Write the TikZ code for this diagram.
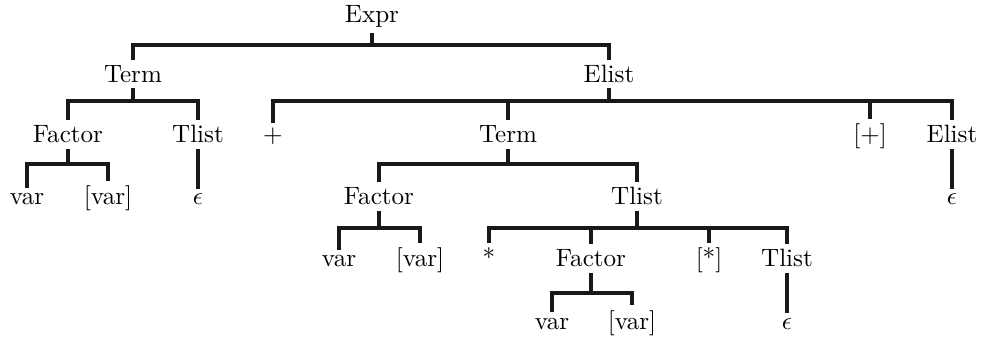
\documentclass[tikz,border=0pt]{standalone}
\usepackage{amsmath}
\usepackage{amssymb}
\usepackage{tikz}
\usetikzlibrary{calc}
\tikzset{
  treeNode/.style={anchor=base, inner sep=2pt},
  treeEdge/.style={line width=1.3pt, draw=black!90}
}
\begin{document}
\begin{tikzpicture}[x=0.014cm,y=-0.014cm]
  \useasboundingbox (0,0) rectangle (984,339);
  % level 0
  \node[treeNode] (expr) at (372,22.5) {Expr};
  % level 1
  \node[treeNode] (term) at (133,82.7) {Term};
  \node[treeNode] (elist) at (609,82.7) {Elist};
  % level 2
  \node[treeNode] (factorA) at (68,143) {Factor};
  \node[treeNode] (tlistA) at (198,143) {Tlist};
  \node[treeNode] (plus) at (273,143) {+};
  \node[treeNode] (termB) at (508,143) {Term};
  \node[treeNode] (plusOpt) at (870,143) {[+]};
  \node[treeNode] (elistB) at (952,143) {Elist};
  % level 3
  \node[treeNode] (varA) at (27,205) {var};
  \node[treeNode] (varOptA) at (108,205) {[var]};
  \node[treeNode] (epsA) at (198,205) {$\epsilon$};
  \node[treeNode] (factorB) at (379,205) {Factor};
  \node[treeNode] (tlistB) at (637,205) {Tlist};
  \node[treeNode] (epsB) at (952,205) {$\epsilon$};
  % level 4
  \node[treeNode] (varB) at (339,267) {var};
  \node[treeNode] (varOptB) at (420,267) {[var]};
  \node[treeNode] (star) at (489,267) {*};
  \node[treeNode] (factorC) at (591,267) {Factor};
  \node[treeNode] (starOpt) at (709,267) {[*]};
  \node[treeNode] (tlistC) at (787,267) {Tlist};
  % level 5
  \node[treeNode] (varC) at (552,329) {var};
  \node[treeNode] (varOptC) at (632,329) {[var]};
  \node[treeNode] (epsC) at (787,329) {$\epsilon$};

  % bar heights
  \coordinate (barA) at (0,45);
  \coordinate (barB) at (0,101);
  \coordinate (barC) at (0,164);
  \coordinate (barD) at (0,228);
  \coordinate (barE) at (0,293);

  % Expr
  \draw[treeEdge] (expr.south) -- (expr.south |- barA);
  \draw[treeEdge] (term.north) |- (elist.north |- barA) -- (elist.north);
  % Term
  \draw[treeEdge] (term.south) -- (term.south |- barB);
  \draw[treeEdge] (factorA.north) |- (tlistA.north |- barB) -- (tlistA.north);
  % Elist
  \draw[treeEdge] (elist.south) -- (elist.south |- barB);
  \draw[treeEdge] (plus.north) |- (elistB.north |- barB) -- (elistB.north);
  \foreach \c in {termB,plusOpt}
    \draw[treeEdge] (\c.north) -- (\c.north |- barB);
  % Factor, Tlist, Elist on level 2
  \draw[treeEdge] (factorA.south) -- (factorA.south |- barC);
  \draw[treeEdge] (varA.north) |- (varOptA.north |- barC) -- (varOptA.north);
  \draw[treeEdge] (tlistA.south) -- (epsA.north);
  \draw[treeEdge] (termB.south) -- (termB.south |- barC);
  \draw[treeEdge] (factorB.north) |- (tlistB.north |- barC) -- (tlistB.north);
  \draw[treeEdge] (elistB.south) -- (epsB.north);
  % level 3
  \draw[treeEdge] (factorB.south) -- (factorB.south |- barD);
  \draw[treeEdge] (varB.north) |- (varOptB.north |- barD) -- (varOptB.north);
  \draw[treeEdge] (tlistB.south) -- (tlistB.south |- barD);
  \draw[treeEdge] (star.north) |- (tlistC.north |- barD) -- (tlistC.north);
  \foreach \c in {factorC,starOpt}
    \draw[treeEdge] (\c.north) -- (\c.north |- barD);
  % level 4
  \draw[treeEdge] (factorC.south) -- (factorC.south |- barE);
  \draw[treeEdge] (varC.north) |- (varOptC.north |- barE) -- (varOptC.north);
  \draw[treeEdge] (tlistC.south) -- (epsC.north);
\end{tikzpicture}
\end{document}
